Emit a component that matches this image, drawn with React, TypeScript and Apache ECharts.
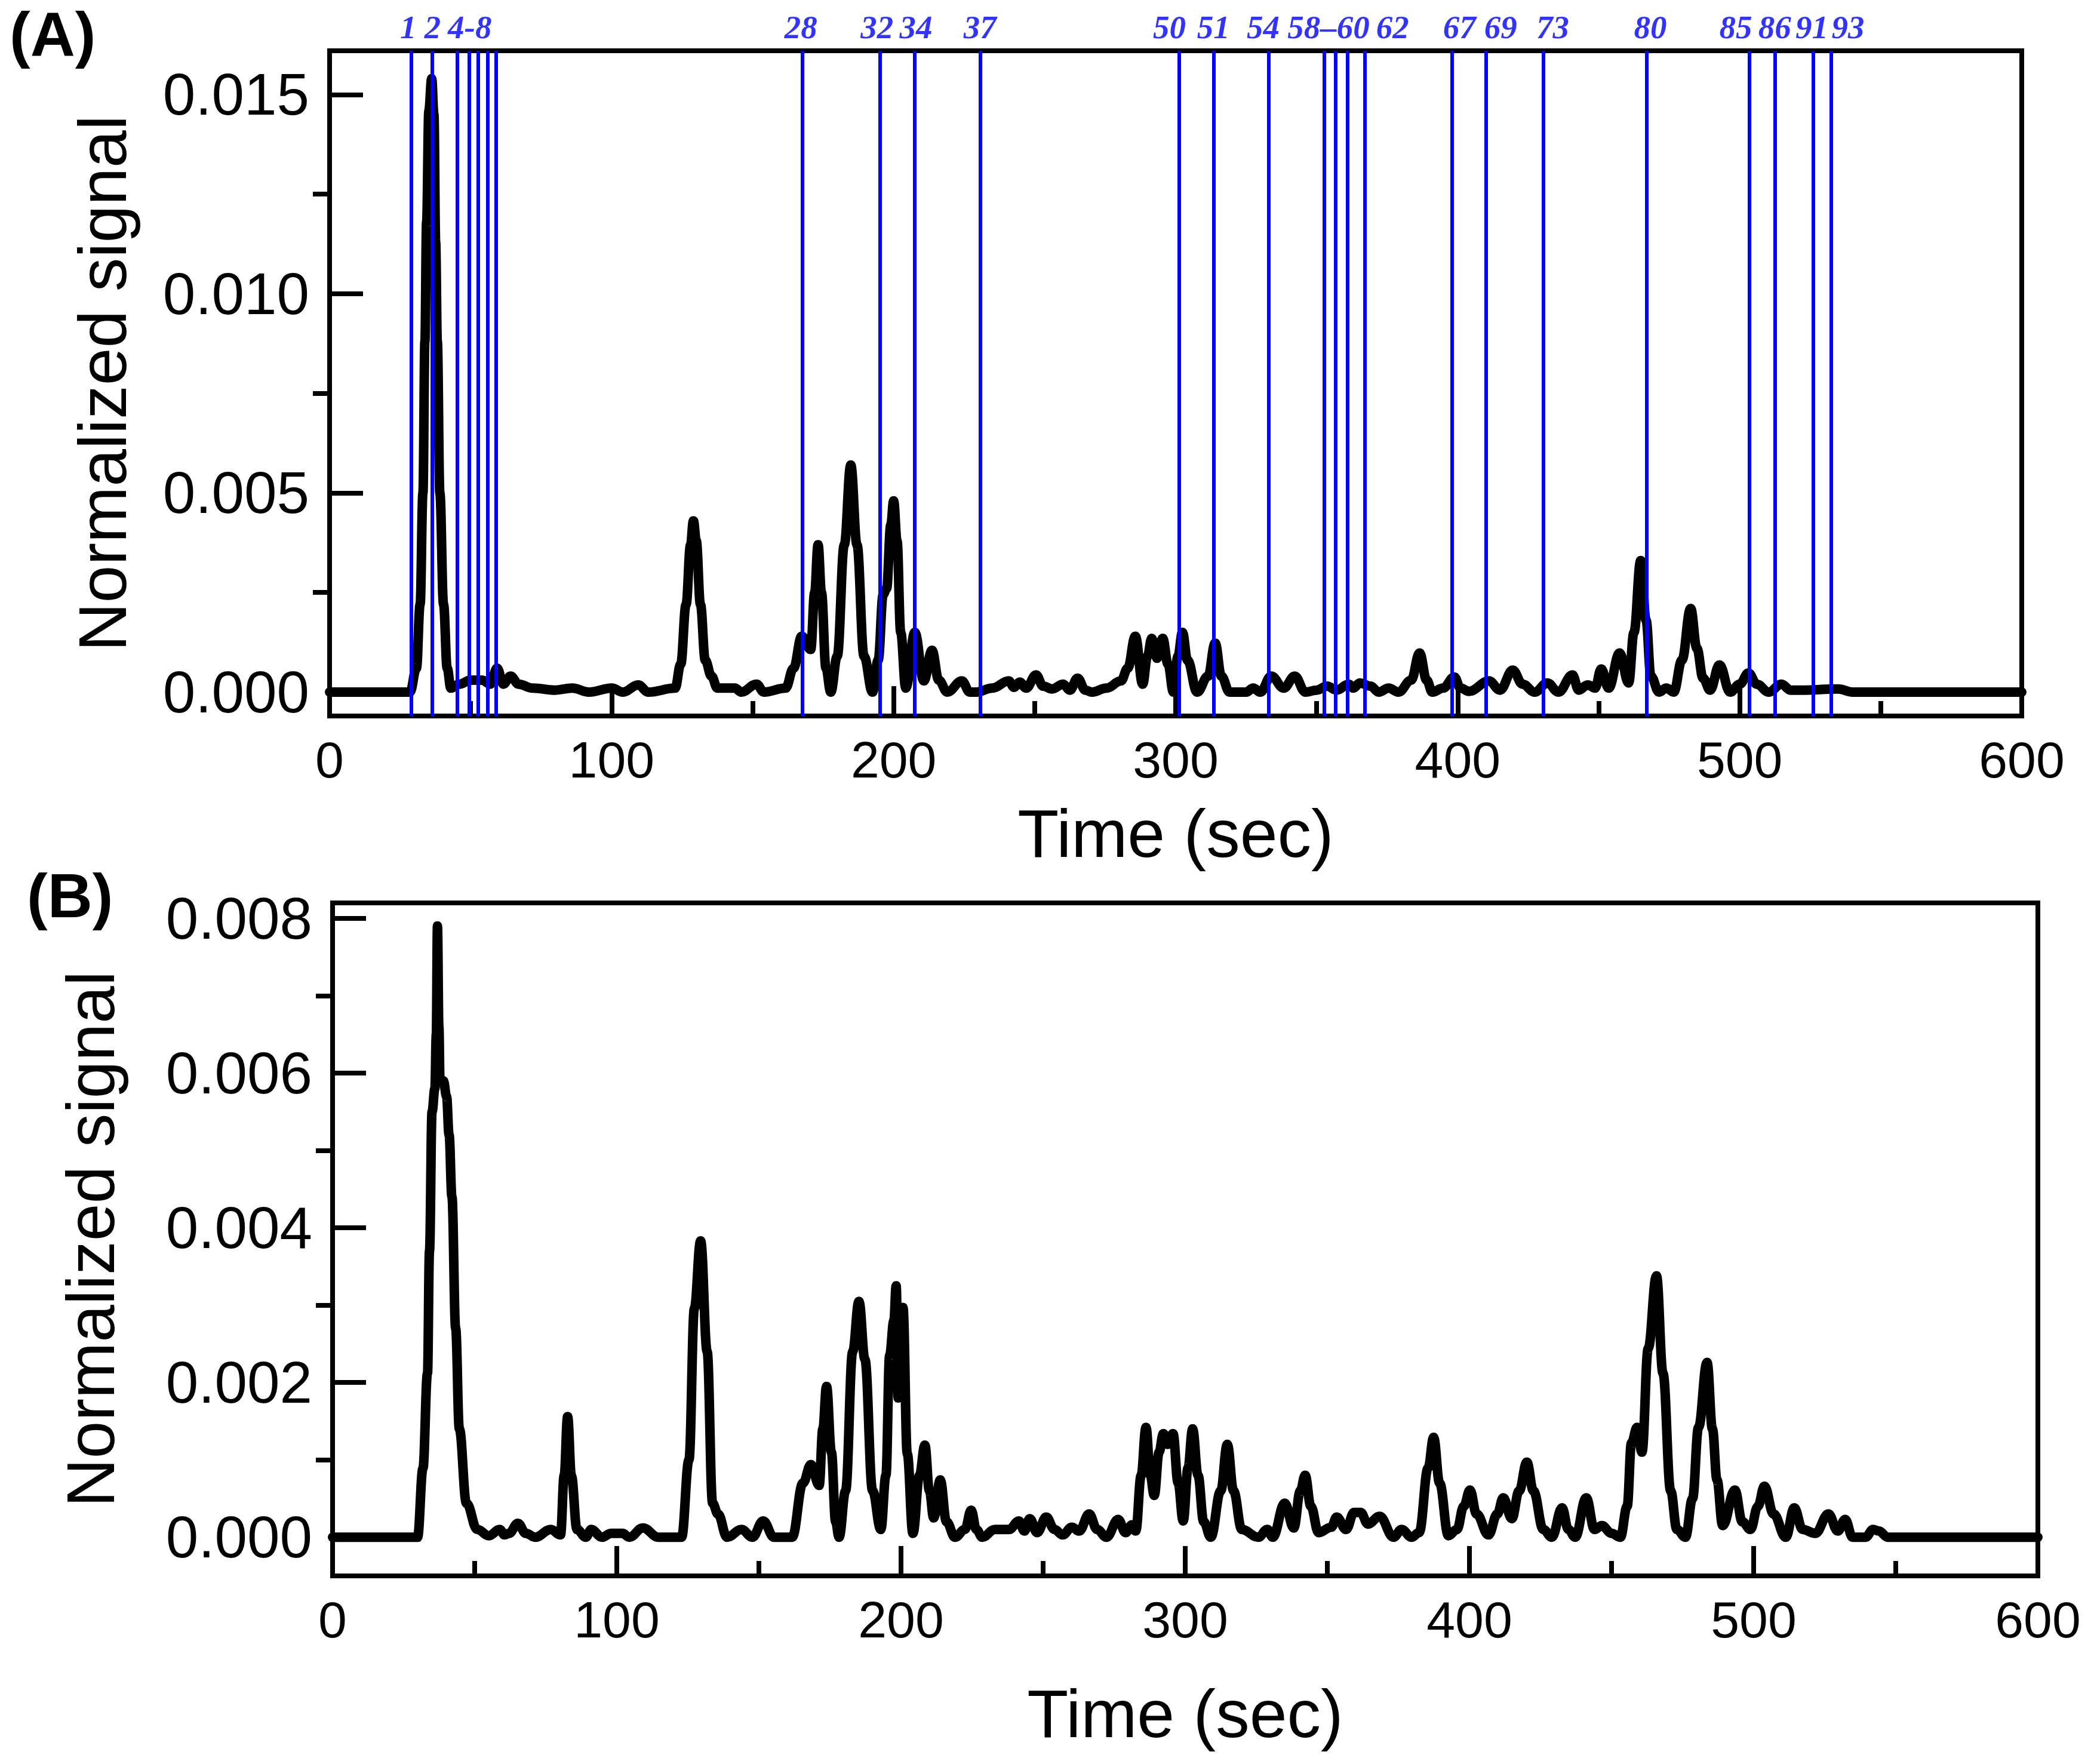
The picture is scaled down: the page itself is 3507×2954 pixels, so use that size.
import { useEffect, useRef } from 'react';
import * as echarts from 'echarts';

// ---------- data ----------
const xTicks = [0, 100, 200, 300, 400, 500, 600];
const yTicksA = [0, 0.005, 0.01, 0.015];
const yMinorA = [0.0025, 0.0075, 0.0125];
const yTicksB = [0, 0.002, 0.004, 0.006, 0.008];
const yMinorB = [0.001, 0.003, 0.005, 0.007];

// vertical blue marker lines (time, sec)
const peakLineTimes = [
  29.0, 36.4, 45.3, 49.4, 52.6, 56.0, 59.1, 167.7, 195.2, 207.4, 230.7,
  301.2, 313.6, 333.0, 352.7, 356.6, 360.9, 367.0, 397.9, 410.0, 430.3,
  467.0, 503.3, 512.6, 526.0, 532.5,
];
const peakLabels = ['1', '2', '4-8', '28', '32', '34', '37', '50', '51', '54', '58–60', '62', '67', '69', '73', '80', '85', '86', '91', '93'];
const peakLabelTimes = [27.9, 36.5, 49.7, 167.1, 194.1, 207.9, 230.6, 297.8, 313.4, 331.0, 354.2, 376.9, 400.6, 415.2, 433.7, 468.3, 498.6, 512.4, 525.6, 538.4];

// panel A trace [time, signal]
const traceA: [number, number][] = [
  [0, 0], [28.5, 0], [30.8, 0.0006], [32.1, 0.0022], [33.1, 0.005], [33.8, 0.0088], [34.4, 0.0118],
  [35.2, 0.0146], [36.2, 0.0154], [37.0, 0.0145], [37.6, 0.0113], [38.2, 0.0088], [39.1, 0.005],
  [40.4, 0.0022], [41.7, 0.0006], [43.0, 0.0001], [46, 0.0002], [50, 0.0003], [54, 0.0003], [57, 0.0002],
  [59.4, 0.0006], [61.6, 0.0002], [64.2, 0.0004], [67, 0.0002], [72, 0.0001], [80, 0.00005], [86, 0.0001],
  [92, 0], [100, 0.0001], [104, 0], [109.4, 0.00018], [113, 0], [122.5, 0.0001], [124.5, 0.0007],
  [126.4, 0.0022], [128, 0.0037], [129, 0.0043], [130, 0.0038], [131.5, 0.0022], [133.2, 0.0008],
  [135.4, 0.0004], [137.5, 0.0001], [143.7, 0.0001], [146, 0], [151.4, 0.0002], [154, 0], [161.7, 0.0001],
  [164.5, 0.0006], [167.4, 0.0014], [170.6, 0.00107], [172, 0.0025], [173.2, 0.0037], [174.4, 0.0025],
  [176, 0.0006], [177.7, 0], [180, 0.0009], [182.5, 0.0037], [184.8, 0.0057], [187, 0.0037], [189.5, 0.0009],
  [192.5, 0], [194.5, 0.0008], [196.3, 0.00245], [197.5, 0.0026], [199, 0.0042], [200, 0.0048],
  [201.2, 0.0038], [202.5, 0.0015], [204.3, 0.0001], [207.5, 0.0015], [210.7, 0.00028], [213.6, 0.00105],
  [216, 0.0003], [219, 0], [224.2, 0.00028], [227, 0], [229.3, 0], [235, 0.0001], [240.8, 0.00028],
  [242.7, 0.00012], [244.7, 0.00025], [247, 0.0001], [250.5, 0.00043], [253, 0.00015], [256.2, 0.00008],
  [260.1, 0.0002], [262.5, 0.00005], [265.2, 0.00035], [268, 0.00005], [270.3, 0], [275.5, 0.0001],
  [280.6, 0.00028], [283, 0.0006], [285.7, 0.0014], [288.3, 0.0002], [290, 0.0009], [291.5, 0.00135],
  [293.4, 0.00085], [295.4, 0.00135], [297.3, 0.0007], [299.2, 0], [300.8, 0.0009], [302.4, 0.0015],
  [304.2, 0.0008], [307.6, 0], [311.5, 0.0004], [314, 0.00123], [316.2, 0.0004], [319.1, 0], [325, 0],
  [327.5, 0.0001], [330, 0], [333.9, 0.0004], [338.3, 0.0001], [342.2, 0.0004], [346, 0], [350, 0.00005],
  [353.7, 0.00015], [357, 0.00005], [361.4, 0.0002], [363, 0.0001], [365.3, 0.00023], [369.1, 0.00015],
  [372, 0], [375.5, 0.0001], [379, 0], [383.5, 0.0003], [386.5, 0.00098], [389, 0.0003], [391, 0],
  [394.8, 0.0001], [398.8, 0.00038], [401, 0.0001], [404, 0.00002], [411.1, 0.00028], [415, 0.00005],
  [419.5, 0.00055], [423, 0.0002], [427.3, 0], [431.8, 0.00023], [435.7, 0], [440.7, 0.00043],
  [442.9, 0.00005], [446.1, 0.00018], [448.7, 0.0001], [450.9, 0.00058], [453.5, 0.0001], [457.4, 0.00098],
  [460.6, 0.00023], [462.5, 0.0015], [464.9, 0.0033], [466.8, 0.0018], [468.5, 0.0004], [471.4, 0],
  [474, 0.0001], [476.6, 0], [479.5, 0.0008], [482.6, 0.0021], [484.8, 0.0011], [487, 0.00035],
  [489.5, 0.00005], [492.8, 0.00068], [496.6, 0], [500, 0.0002], [503.1, 0.00048], [506, 0.0002],
  [510.3, 0], [514.8, 0.0002], [518, 0.00005], [521.9, 0.00005], [534.9, 0.00008], [540, 0], [600, 0],
];

// panel B trace [time, signal]
const traceB: [number, number][] = [
  [0, 0], [29.9, 0], [31.8, 0.00089], [33.4, 0.00212], [34.1, 0.0037], [35, 0.0055], [36, 0.0058],
  [36.5, 0.0065], [36.9, 0.0079], [37.4, 0.0066], [37.8, 0.0059], [39, 0.0059], [40.1, 0.0057],
  [41, 0.0052], [42, 0.0044], [43.3, 0.0027], [44.6, 0.0014], [47.1, 0.00044], [50.9, 0.0001],
  [55, 0.00002], [58.8, 0.0001], [60.5, 0.00003], [62.1, 0.00005], [65.2, 0.00018], [68, 0.00005],
  [71.3, 0], [76.8, 0.0001], [80.2, 0.00003], [81.5, 0.0008], [82.7, 0.00156], [84, 0.0008], [86, 0.0001],
  [89.1, 0], [91, 0.0001], [94.8, 0], [98, 0.00005], [102, 0.00005], [104.4, 0], [109.2, 0.00012],
  [114.6, 0], [122.8, 0], [125.4, 0.001], [127.3, 0.00296], [129.5, 0.00383], [131.8, 0.0024],
  [133.7, 0.00044], [135.6, 0.0003], [138.8, 0], [143.9, 0.0001], [147.7, 0], [151.5, 0.00021],
  [155.3, 0], [161.7, 0], [165.5, 0.0007], [168.3, 0.00094], [171.2, 0.00067], [172.5, 0.0014],
  [173.8, 0.00195], [175.5, 0.0011], [177, 0.0002], [178.2, 0], [180.5, 0.0006], [183, 0.0024],
  [185.2, 0.00305], [187.3, 0.0023], [190, 0.0006], [192.9, 0.0001], [194.7, 0.0008], [196, 0.00235],
  [197.5, 0.0028], [198.3, 0.00325], [199.0, 0.0018], [199.5, 0.0019], [200.7, 0.00297], [202.2, 0.00108],
  [204.2, 0.00005], [206.5, 0.0008], [208.4, 0.00119], [210, 0.0006], [211.5, 0.00025], [213.8, 0.00074],
  [216, 0.0002], [219, 0], [222.5, 0.0001], [224.7, 0.00035], [226.5, 0.0001], [228.6, 0], [233, 0.0001],
  [238, 0.0001], [241.5, 0.00021], [243.4, 0.00008], [245.3, 0.00024], [247.9, 0.00006], [251.1, 0.00026],
  [254, 0.0001], [256.9, 0.00003], [260.1, 0.00013], [262.7, 0.00008], [266.2, 0.0003], [269, 0.0001],
  [272.3, 0], [276.4, 0.00023], [279, 0.00006], [281.3, 0.00016], [282.6, 0.00008], [284.5, 0.0008],
  [286.2, 0.00142], [287.7, 0.0008], [289.1, 0.00054], [290.8, 0.0011], [292.3, 0.00134], [293.8, 0.0012],
  [295.7, 0.00134], [297.5, 0.0007], [299.3, 0.00021], [301, 0.0009], [302.6, 0.0014], [304.5, 0.0008],
  [306.5, 0.0002], [309, 0], [312.5, 0.0006], [314.8, 0.0012], [317, 0.0006], [319.9, 0.0001], [325.7, 0],
  [328.9, 0.0001], [330.8, 0], [335, 0.00044], [338.2, 0.00012], [340.5, 0.0006], [342.2, 0.0008],
  [344.2, 0.0004], [346.9, 0.00006], [351.4, 0.00013], [353.3, 0.00026], [356.6, 0.0001], [359.4, 0.00032],
  [361.7, 0.00032], [364.3, 0.00017], [368.4, 0.00027], [373.3, 0], [376.1, 0.0001], [379.7, 0],
  [382.3, 0.00006], [385.5, 0.0009], [387.4, 0.00129], [389.5, 0.0007], [392.6, 0.00002], [395.6, 0.0001],
  [398, 0.0004], [400.2, 0.00061], [402.5, 0.0003], [406.7, 0.00003], [409.8, 0.0003], [411.9, 0.00051],
  [414.9, 0.00024], [417.5, 0.0006], [420.2, 0.00097], [422.5, 0.0006], [426, 0.0001], [429, 0],
  [432.6, 0.00038], [434.8, 0.0001], [437.2, 0], [441.1, 0.00051], [444, 0.0001], [446.6, 0.00015],
  [450, 0.00005], [453.1, 0], [455.5, 0.0004], [457, 0.00122], [459, 0.00142], [460.7, 0.0011],
  [462.9, 0.00244], [465.8, 0.00338], [468.1, 0.00212], [470.8, 0.0006], [473, 0.0001], [476, 0],
  [478.5, 0.0005], [480.6, 0.00142], [483.6, 0.00226], [485.5, 0.0014], [487.1, 0.00074], [489.1, 0.00015],
  [493.4, 0.00061], [496, 0.0002], [498.9, 0.0001], [501.5, 0.0004], [503.8, 0.00066], [507, 0.0003],
  [511.3, 0], [514.3, 0.00038], [517.2, 0.0001], [521.7, 0.00005], [526.3, 0.0003], [529.6, 0.00008],
  [532.2, 0.00023], [534.8, 0], [539.4, 0], [542, 0.0001], [544, 0.00008], [547.2, 0], [600, 0],
];

// ---------- layout / style ----------
const W = 3507;
const H = 2954;
const SANS = "'Liberation Sans', Arial, sans-serif";
const SERIF = "'Liberation Serif', 'Times New Roman', serif";
const FRAME = 8;
const CURVE_W = 16;
const yRangeA = [-0.0006, 0.0161];
const yRangeB = [-0.0005, 0.0082];

function xAxisFor(gridIndex: number) {
  return {
    gridIndex,
    type: 'value',
    min: xTicks[0],
    max: xTicks[xTicks.length - 1],
    interval: xTicks[1] - xTicks[0],
    axisLine: { show: true, onZero: false, lineStyle: { color: '#000', width: FRAME } },
    axisTick: { show: true, inside: true, length: 50, lineStyle: { color: '#000', width: 8 } },
    minorTick: { show: true, splitNumber: 2, length: 25, lineStyle: { color: '#000', width: 8 } },
    splitLine: { show: false },
    minorSplitLine: { show: false },
    axisLabel: { fontSize: 86, fontFamily: SANS, color: '#000', margin: 30 },
  };
}

function yAxesFor(gridIndex: number, range: number[], major: number[], minor: number[]) {
  return [
    {
      gridIndex,
      type: 'value',
      min: range[0],
      max: range[1],
      axisLine: { show: true, onZero: false, lineStyle: { color: '#000', width: FRAME } },
      axisTick: { show: true, inside: true, length: 56, customValues: major, lineStyle: { color: '#000', width: 8 } },
      axisLabel: {
        show: true,
        customValues: major,
        formatter: (v: number) => v.toFixed(3),
        fontSize: 98,
        fontFamily: SANS,
        color: '#000',
        margin: 34,
      },
      splitLine: { show: false },
    },
    {
      gridIndex,
      type: 'value',
      min: range[0],
      max: range[1],
      axisLine: { show: false },
      axisTick: { show: true, inside: true, length: 28, customValues: minor, lineStyle: { color: '#000', width: 8 } },
      axisLabel: { show: false },
      splitLine: { show: false },
    },
  ];
}

function textEl(text: string, x: number, y: number, size: number, opts: any = {}) {
  return {
    type: 'text',
    x,
    y,
    rotation: opts.rotation || 0,
    style: {
      text,
      fill: '#000',
      font: `${opts.bold ? 'bold ' : ''}${size}px ${SANS}`,
      textAlign: opts.align || 'center',
      textVerticalAlign: 'middle',
      align: opts.align || 'center',
      verticalAlign: 'middle',
    },
  };
}

export default function App() {
  const ref = useRef<HTMLDivElement>(null);

  useEffect(() => {
    if (!ref.current) return;
    const chart = echarts.init(ref.current, null, { renderer: 'svg', width: W, height: H });
    const option: any = {
      animation: false,
      backgroundColor: '#fff',
      grid: [
        { left: 552, top: 85, width: 2834, height: 1114, show: true, borderColor: '#000', borderWidth: FRAME, backgroundColor: 'transparent' },
        { left: 557, top: 1512, width: 2856, height: 1127, show: true, borderColor: '#000', borderWidth: FRAME, backgroundColor: 'transparent' },
      ],
      xAxis: [xAxisFor(0), xAxisFor(1)],
      yAxis: [
        ...yAxesFor(0, yRangeA, yTicksA, yMinorA),
        ...yAxesFor(1, yRangeB, yTicksB, yMinorB),
      ],
      series: [
        {
          type: 'line',
          xAxisIndex: 0,
          yAxisIndex: 0,
          data: [],
          z: 1,
          markLine: {
            silent: true,
            symbol: ['none', 'none'],
            label: { show: false },
            lineStyle: { color: '#0000ff', width: 6, type: 'solid', opacity: 1 },
            emphasis: { disabled: true },
            data: peakLineTimes.map((t) => ({ xAxis: t })),
          },
        },
        {
          type: 'line',
          xAxisIndex: 0,
          yAxisIndex: 0,
          data: traceA,
          showSymbol: false,
          symbol: 'none',
          smooth: 0.4,
          smoothMonotone: 'x',
          lineStyle: { color: '#000', width: CURVE_W, join: 'round', cap: 'round' },
          z: 3,
        },
        {
          type: 'scatter',
          xAxisIndex: 0,
          yAxisIndex: 0,
          symbolSize: 0,
          clip: false,
          silent: true,
          data: peakLabelTimes.map((t) => [t, yRangeA[1]]),
          label: {
            show: true,
            position: 'top',
            distance: 12,
            formatter: (p: any) => peakLabels[p.dataIndex],
            color: '#0000ff',
            fontFamily: SERIF,
            fontStyle: 'italic',
            fontWeight: 'bold',
            fontSize: 55,
          },
          z: 4,
        },
        {
          type: 'line',
          xAxisIndex: 1,
          yAxisIndex: 2,
          data: traceB,
          showSymbol: false,
          symbol: 'none',
          smooth: 0.4,
          smoothMonotone: 'x',
          lineStyle: { color: '#000', width: CURVE_W, join: 'round', cap: 'round' },
          z: 3,
        },
      ],
      graphic: [
        textEl('(A)', 16, 57, 104, { bold: true, align: 'left' }),
        textEl('(B)', 45, 1500, 104, { bold: true, align: 'left' }),
        textEl('Normalized signal', 172, 642, 113, { rotation: Math.PI / 2 }),
        textEl('Time (sec)', 1969, 1396, 113),
        textEl('Normalized signal', 152, 2075, 113, { rotation: Math.PI / 2 }),
        textEl('Time (sec)', 1985, 2870, 113),
      ],
    };
    chart.setOption(option);
    return () => chart.dispose();
  }, []);

  return (
    <div
      ref={ref}
      style={{ position: 'absolute', left: 0, top: 0, width: W, height: H, background: '#fff' }}
    />
  );
}
